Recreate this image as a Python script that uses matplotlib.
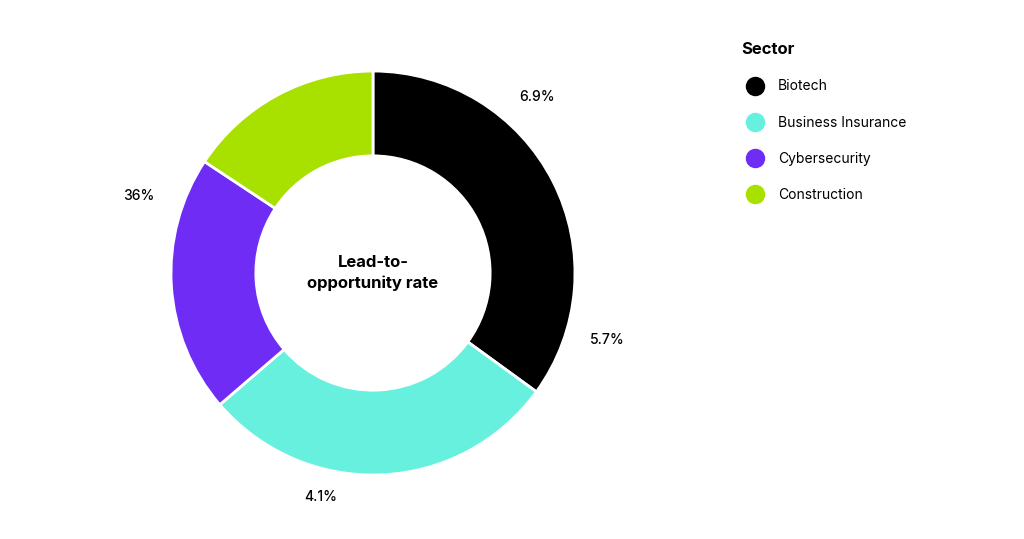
import matplotlib.pyplot as plt
from matplotlib.lines import Line2D

# data
sectors = ['Biotech', 'Business Insurance', 'Cybersecurity', 'Construction']
shares = [35.0, 28.7, 20.6, 15.7]
colors = ['#000000', '#68F0DF', '#6F2CF5', '#A8E000']
rate_labels = ['6.9%', '5.7%', '4.1%', '36%']
label_pos = [(0.81, 0.87), (1.16, -0.33), (-0.26, -1.11), (-1.16, 0.38)]

plt.rcParams['font.family'] = ['Inter', 'DejaVu Sans']

fig = plt.figure(figsize=(10.24, 5.39), dpi=100)
ax = fig.add_axes([0.167, 0.1187, 0.3945, 0.7495])

ax.pie(shares, colors=colors, startangle=90, counterclock=False, radius=1,
       wedgeprops=dict(width=0.42, edgecolor='white', linewidth=2))
ax.set_xlim(-1, 1)
ax.set_ylim(-1, 1)
ax.set_aspect('auto')

ax.text(0, 0, 'Lead-to-\nopportunity rate', ha='center', va='center',
        fontsize=12, fontweight='bold', linespacing=1.5)

for lab, (x, y) in zip(rate_labels, label_pos):
    ax.text(x, y, lab, ha='center', va='center', fontsize=10, fontweight='medium',
            clip_on=False)

handles = [Line2D([0], [0], marker='o', linestyle='none', markersize=13,
                  markerfacecolor=c, markeredgecolor=c) for c in colors]
leg = fig.legend(handles, sectors, loc='upper left', bbox_to_anchor=(0.712, 0.945),
                 frameon=False, title='Sector', fontsize=10, labelspacing=1.6,
                 handletextpad=0.6, alignment='left')
leg.get_title().set_fontsize(12)
leg.get_title().set_fontweight('bold')
leg._legend_box.sep = 16

fig.savefig('out.png', dpi=100)
